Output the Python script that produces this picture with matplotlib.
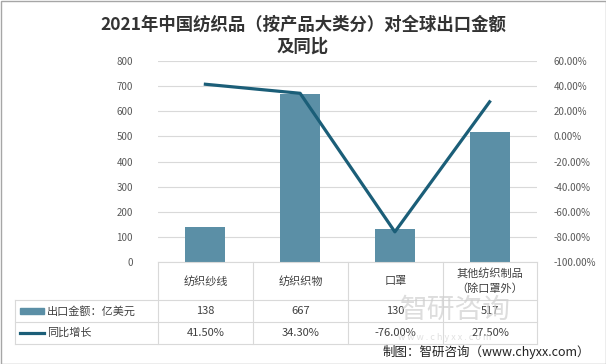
import numpy as np
import matplotlib.pyplot as plt
from matplotlib.patches import Rectangle
from matplotlib.lines import Line2D

plt.rcParams['font.family'] = ['Noto Sans CJK SC', 'DejaVu Sans']

categories = ['纺织纱线', '纺织织物', '口罩', '其他纺织制品\n（除口罩外）']
export_value = [138, 667, 130, 517]
yoy_growth = [41.5, 34.3, -76.0, 27.5]
value_labels = ['138', '667', '130', '517']
growth_labels = ['41.50%', '34.30%', '-76.00%', '27.50%']

bar_color = '#5b8fa6'
line_color = '#1b5e78'
grid_color = '#d9d9d9'
tick_color = '#595959'

W, H = 606, 364
fig = plt.figure(figsize=(W / 100, H / 100), dpi=100)

# plot area in pixels
left, right, top, bottom = 158, 537, 61, 262
ax = fig.add_axes([left / W, 1 - bottom / H, (right - left) / W, (bottom - top) / H])

x = np.arange(len(categories))
ax.bar(x, export_value, width=0.42, color=bar_color, zorder=2)
ax.set_xlim(-0.5, len(categories) - 0.5)
ax.set_ylim(0, 800)
ax.set_yticks(range(0, 801, 100))
ax.yaxis.grid(True, color=grid_color, linewidth=0.8, zorder=0)
ax.set_xticks([])
for s in ax.spines.values():
    s.set_visible(False)
ax.tick_params(axis='y', length=0, labelsize=7, labelcolor=tick_color, pad=18)

ax2 = ax.twinx()
ax2.plot(x, yoy_growth, color=line_color, linewidth=2.3, zorder=3)
ax2.set_ylim(-100, 60)
ax2.set_yticks(range(-100, 61, 20))
ax2.set_yticklabels([f'{v:.2f}%' for v in range(-100, 61, 20)])
for s in ax2.spines.values():
    s.set_visible(False)
ax2.tick_params(axis='y', length=0, labelsize=7, labelcolor=tick_color, pad=12)

# data table below the plot
def fx(px):
    return (px - left) / (right - left)

def fy(py):
    return (bottom - py) / (bottom - top)

tab_left = 15
row_y = [262, 300, 322, 344]
col_x = [158, 253, 348, 443, 537]
lk = dict(color=grid_color, linewidth=0.8, transform=ax.transAxes, clip_on=False)
ax.add_line(Line2D([fx(col_x[0]), fx(col_x[-1])], [fy(262)] * 2, **lk))
for ry in row_y[1:]:
    ax.add_line(Line2D([fx(tab_left), fx(col_x[-1])], [fy(ry)] * 2, **lk))
for cx in col_x:
    ax.add_line(Line2D([fx(cx)] * 2, [fy(262), fy(344)], **lk))
ax.add_line(Line2D([fx(tab_left)] * 2, [fy(300), fy(344)], **lk))

# faint watermark (sits behind the table text)
fig.text(455 / W, 1 - 310 / H, '智研咨询', ha='center', va='center', fontsize=20,
         color='#cfcfcf', alpha=0.7, zorder=0)
fig.text(445 / W, 1 - 338 / H, 'w w w . c h y x x . c o m', ha='center', va='center',
         fontsize=6.5, color='#d4d4d4', alpha=0.7, zorder=0)

txt = dict(transform=ax.transAxes, ha='center', va='center', fontsize=8, color='#404040')
for i in range(len(categories)):
    cx = fx((col_x[i] + col_x[i + 1]) / 2)
    ax.text(cx, fy(281), categories[i], linespacing=1.5, **txt)
    ax.text(cx, fy(311), value_labels[i], **txt)
    ax.text(cx, fy(333), growth_labels[i], **txt)

ax.add_patch(Rectangle((fx(20), fy(314)), fx(44) - fx(20), fy(308) - fy(314),
                       color=bar_color, transform=ax.transAxes, clip_on=False))
ax.add_line(Line2D([fx(20), fx(44)], [fy(333)] * 2, color=line_color, linewidth=2.3,
                   transform=ax.transAxes, clip_on=False))
ax.text(fx(47), fy(311), '出口金额：亿美元', transform=ax.transAxes, ha='left',
        va='center', fontsize=8, color='#404040')
ax.text(fx(47), fy(333), '同比增长', transform=ax.transAxes, ha='left',
        va='center', fontsize=8, color='#404040')

# title
fig.text(0.5, 1 - 25 / H, '2021年中国纺织品（按产品大类分）对全球出口金额',
         ha='center', va='center', fontsize=12.5, fontweight='bold', color='#333333')
fig.text(0.5, 1 - 47 / H, '及同比', ha='center', va='center', fontsize=12.5,
         fontweight='bold', color='#333333')

fig.text(590 / W, 1 - 352 / H, '制图：智研咨询（www.chyxx.com）', ha='right',
         va='center', fontsize=9, color='#222222')

fig.add_artist(Rectangle((0.5 / W, 0.5 / H), 1 - 1 / W, 1 - 1 / H, fill=False,
                         edgecolor='#a6a6a6', linewidth=1, transform=fig.transFigure))

fig.savefig('out.png', dpi=100)
